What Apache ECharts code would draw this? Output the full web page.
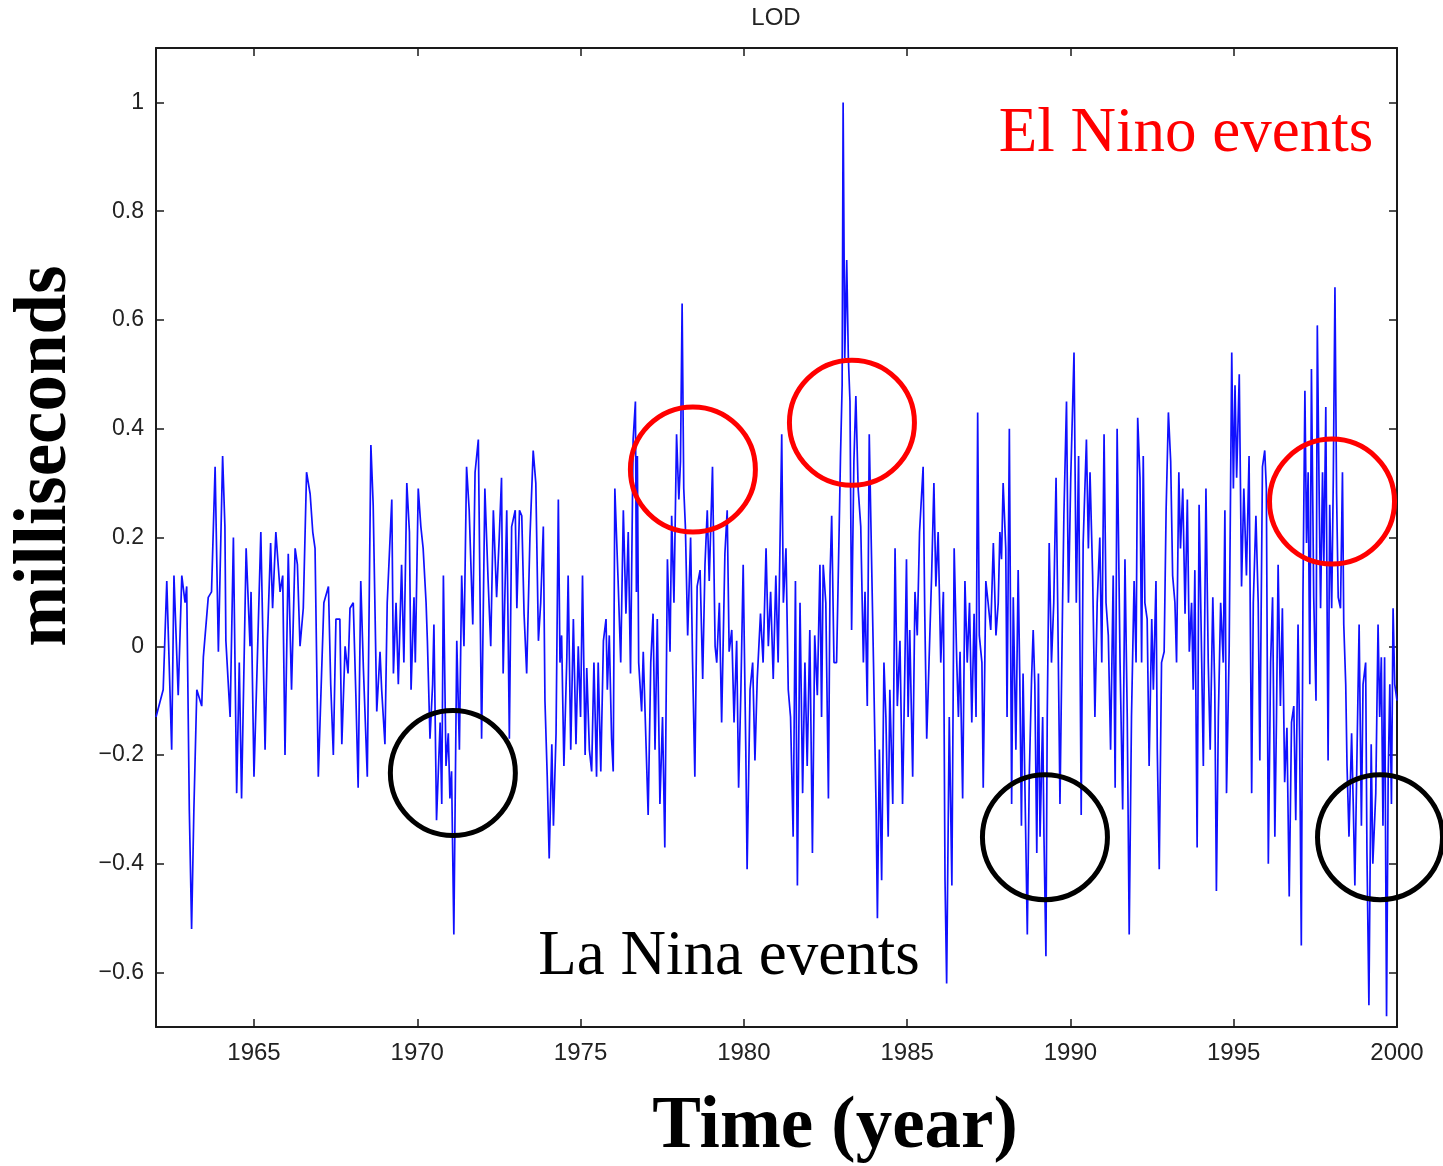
<!DOCTYPE html>
<html>
<head>
<meta charset="utf-8">
<title>LOD</title>
<script src="https://cdn.jsdelivr.net/npm/echarts@6/dist/echarts.min.js"></script>
<style>
  html, body { margin: 0; padding: 0; background: #fff; }
  #chart { width: 1443px; height: 1166px; }
</style>
</head>
<body>
<div id="chart"></div>
<script>
// LOD anomaly, [year, milliseconds]
var lod = [
  [1962.00,-0.13],[1962.22,-0.08],[1962.33,0.12],[1962.48,-0.19],[1962.55,0.13],[1962.68,-0.09],
  [1962.79,0.13],[1962.89,0.08],[1962.94,0.11],[1963.02,-0.30],[1963.09,-0.52],[1963.16,-0.30],
  [1963.25,-0.08],[1963.40,-0.11],[1963.45,-0.02],[1963.60,0.09],[1963.70,0.10],[1963.81,0.33],
  [1963.91,-0.01],[1964.04,0.35],[1964.11,0.22],[1964.14,0.01],[1964.27,-0.13],[1964.37,0.20],
  [1964.47,-0.27],[1964.55,-0.03],[1964.62,-0.28],[1964.76,0.18],[1964.88,0.00],[1964.91,0.10],
  [1965.00,-0.24],[1965.10,-0.03],[1965.21,0.21],[1965.34,-0.19],[1965.41,0.01],[1965.51,0.19],
  [1965.57,0.07],[1965.67,0.21],[1965.80,0.10],[1965.88,0.13],[1965.95,-0.20],[1966.05,0.17],
  [1966.15,-0.08],[1966.26,0.18],[1966.33,0.15],[1966.41,0.00],[1966.51,0.07],[1966.61,0.32],
  [1966.72,0.28],[1966.80,0.21],[1966.87,0.18],[1966.97,-0.24],[1967.07,-0.05],[1967.14,0.08],
  [1967.28,0.11],[1967.35,-0.07],[1967.43,-0.20],[1967.51,0.05],[1967.63,0.05],[1967.69,-0.18],
  [1967.79,0.00],[1967.88,-0.05],[1967.94,0.07],[1968.04,0.08],[1968.12,-0.09],[1968.19,-0.26],
  [1968.27,0.12],[1968.35,-0.04],[1968.47,-0.24],[1968.58,0.37],[1968.65,0.26],[1968.76,-0.12],
  [1968.86,-0.01],[1968.91,-0.08],[1969.01,-0.18],[1969.08,0.08],[1969.22,0.27],[1969.27,-0.05],
  [1969.35,0.08],[1969.42,-0.07],[1969.52,0.15],[1969.59,-0.03],[1969.68,0.30],[1969.76,0.21],
  [1969.81,-0.08],[1969.90,0.09],[1969.94,-0.03],[1970.03,0.29],[1970.11,0.22],[1970.18,0.18],
  [1970.27,0.08],[1970.31,0.01],[1970.39,-0.17],[1970.47,-0.07],[1970.51,0.04],[1970.59,-0.32],
  [1970.70,-0.14],[1970.75,-0.29],[1970.80,0.13],[1970.88,-0.22],[1970.95,-0.16],[1971.00,-0.28],
  [1971.05,-0.23],[1971.12,-0.53],[1971.21,0.01],[1971.29,-0.19],[1971.36,0.13],[1971.43,0.00],
  [1971.51,0.33],[1971.59,0.25],[1971.70,0.04],[1971.77,0.32],[1971.87,0.38],[1971.97,-0.17],
  [1972.07,0.29],[1972.17,0.12],[1972.25,0.00],[1972.33,0.25],[1972.43,0.09],[1972.51,0.20],
  [1972.58,0.31],[1972.63,-0.05],[1972.74,0.25],[1972.82,-0.17],[1972.89,0.22],[1973.00,0.25],
  [1973.05,0.07],[1973.13,0.25],[1973.20,0.24],[1973.27,0.06],[1973.35,-0.05],[1973.45,0.20],
  [1973.55,0.36],[1973.63,0.30],[1973.71,0.01],[1973.78,0.08],[1973.86,0.22],[1973.91,-0.10],
  [1973.98,-0.24],[1974.04,-0.39],[1974.12,-0.18],[1974.17,-0.33],[1974.25,-0.16],[1974.32,0.27],
  [1974.37,-0.03],[1974.42,0.02],[1974.49,-0.22],[1974.58,-0.02],[1974.62,0.13],[1974.70,-0.19],
  [1974.78,0.05],[1974.86,-0.18],[1974.93,0.00],[1975.00,-0.13],[1975.06,0.13],[1975.14,-0.20],
  [1975.19,-0.04],[1975.27,-0.19],[1975.34,-0.23],[1975.41,-0.03],[1975.49,-0.24],[1975.54,-0.03],
  [1975.62,-0.23],[1975.70,0.01],[1975.78,0.05],[1975.82,-0.08],[1975.88,0.02],[1975.95,-0.17],
  [1976.00,-0.23],[1976.05,0.29],[1976.15,0.12],[1976.23,-0.03],[1976.31,0.25],[1976.39,0.06],
  [1976.46,0.21],[1976.53,-0.05],[1976.61,0.38],[1976.68,0.45],[1976.71,0.10],[1976.74,0.35],
  [1976.78,-0.03],[1976.87,-0.12],[1976.92,-0.01],[1977.00,-0.17],[1977.07,-0.31],[1977.15,-0.03],
  [1977.22,0.06],[1977.28,-0.19],[1977.35,0.05],[1977.43,-0.29],[1977.51,-0.13],[1977.58,-0.37],
  [1977.66,0.16],[1977.74,-0.01],[1977.79,0.24],[1977.86,0.08],[1977.94,0.39],[1978.01,0.27],
  [1978.06,0.34],[1978.11,0.63],[1978.16,0.29],[1978.21,0.22],[1978.28,0.02],[1978.37,0.20],
  [1978.43,-0.03],[1978.50,-0.24],[1978.57,0.11],[1978.66,0.14],[1978.74,-0.06],[1978.81,0.15],
  [1978.88,0.25],[1978.94,0.12],[1979.04,0.33],[1979.12,0.00],[1979.17,-0.03],[1979.25,0.08],
  [1979.32,-0.14],[1979.42,0.17],[1979.49,0.25],[1979.55,-0.01],[1979.63,0.03],[1979.70,-0.14],
  [1979.78,0.01],[1979.84,-0.26],[1979.91,-0.08],[1979.98,0.15],[1980.06,-0.19],[1980.10,-0.41],
  [1980.19,-0.08],[1980.27,-0.03],[1980.34,-0.21],[1980.41,-0.06],[1980.51,0.06],[1980.59,-0.03],
  [1980.68,0.18],[1980.75,0.00],[1980.82,0.10],[1980.90,-0.06],[1980.98,0.13],[1981.05,-0.03],
  [1981.16,0.39],[1981.21,0.08],[1981.29,0.18],[1981.36,-0.08],[1981.43,-0.13],[1981.51,-0.35],
  [1981.58,0.12],[1981.64,-0.44],[1981.72,0.08],[1981.80,-0.27],[1981.87,-0.03],[1981.94,-0.22],
  [1982.02,0.03],[1982.10,-0.38],[1982.17,0.02],[1982.25,-0.09],[1982.33,0.15],[1982.38,-0.13],
  [1982.43,0.15],[1982.51,0.08],[1982.59,-0.28],[1982.64,0.13],[1982.69,0.24],[1982.76,-0.03],
  [1982.84,-0.03],[1982.92,0.22],[1982.96,0.35],[1983.01,0.48],[1983.04,1.00],[1983.09,0.53],
  [1983.15,0.71],[1983.20,0.53],[1983.25,0.45],[1983.30,0.03],[1983.37,0.34],[1983.43,0.46],
  [1983.50,0.29],[1983.58,0.22],[1983.66,-0.03],[1983.71,0.10],[1983.78,-0.11],[1983.84,0.39],
  [1983.92,0.13],[1983.97,-0.03],[1984.05,-0.30],[1984.09,-0.50],[1984.15,-0.19],[1984.22,-0.43],
  [1984.29,-0.03],[1984.35,-0.13],[1984.42,-0.35],[1984.47,-0.08],[1984.56,-0.29],[1984.63,0.18],
  [1984.70,-0.11],[1984.78,0.01],[1984.86,-0.29],[1984.93,-0.04],[1984.98,0.16],[1985.03,-0.13],
  [1985.08,0.03],[1985.17,-0.24],[1985.24,0.10],[1985.31,0.02],[1985.38,0.21],[1985.49,0.33],
  [1985.54,0.06],[1985.60,-0.17],[1985.67,-0.03],[1985.75,0.13],[1985.82,0.30],[1985.88,0.11],
  [1985.95,0.21],[1986.03,-0.03],[1986.11,0.10],[1986.16,-0.43],[1986.21,-0.62],[1986.29,-0.13],
  [1986.37,-0.44],[1986.44,0.18],[1986.52,-0.03],[1986.57,-0.13],[1986.62,-0.01],[1986.70,-0.28],
  [1986.77,0.12],[1986.84,-0.03],[1986.91,0.08],[1986.98,-0.14],[1987.05,0.06],[1987.11,-0.13],
  [1987.16,0.43],[1987.21,0.02],[1987.29,-0.03],[1987.33,-0.26],[1987.41,0.12],[1987.48,0.08],
  [1987.56,0.03],[1987.64,0.19],[1987.72,0.02],[1987.79,0.08],[1987.84,0.21],[1987.89,0.16],
  [1987.94,0.30],[1988.02,0.18],[1988.06,-0.13],[1988.13,0.40],[1988.20,-0.29],[1988.25,0.09],
  [1988.33,-0.19],[1988.40,0.14],[1988.45,-0.06],[1988.50,-0.33],[1988.55,-0.05],[1988.64,-0.38],
  [1988.68,-0.53],[1988.74,-0.24],[1988.81,-0.06],[1988.86,0.03],[1988.91,-0.07],[1988.97,-0.38],
  [1989.02,-0.05],[1989.07,-0.35],[1989.15,-0.13],[1989.19,-0.35],[1989.25,-0.57],[1989.29,-0.13],
  [1989.35,0.19],[1989.42,-0.03],[1989.49,0.08],[1989.56,0.31],[1989.61,0.08],[1989.68,-0.29],
  [1989.76,0.08],[1989.80,0.24],[1989.88,0.45],[1989.94,0.08],[1990.01,0.31],[1990.11,0.54],
  [1990.18,0.08],[1990.25,0.35],[1990.33,-0.31],[1990.39,0.19],[1990.49,0.38],[1990.55,0.18],
  [1990.60,0.32],[1990.68,0.13],[1990.75,-0.13],[1990.82,0.08],[1990.90,0.20],[1990.96,-0.03],
  [1991.03,0.39],[1991.09,0.08],[1991.16,0.02],[1991.23,-0.19],[1991.31,0.13],[1991.37,-0.26],
  [1991.43,0.40],[1991.52,-0.03],[1991.60,-0.30],[1991.67,0.16],[1991.74,-0.13],[1991.80,-0.53],
  [1991.87,-0.13],[1991.95,0.12],[1992.01,-0.03],[1992.06,0.42],[1992.13,0.31],[1992.18,-0.03],
  [1992.23,0.35],[1992.28,0.08],[1992.35,0.05],[1992.41,-0.22],[1992.49,0.05],[1992.54,-0.08],
  [1992.62,0.12],[1992.66,-0.19],[1992.72,-0.41],[1992.79,-0.03],[1992.87,-0.01],[1992.93,0.25],
  [1993.00,0.43],[1993.07,0.34],[1993.13,0.13],[1993.20,0.08],[1993.25,-0.03],[1993.32,0.32],
  [1993.37,0.18],[1993.44,0.29],[1993.51,0.06],[1993.58,0.27],[1993.64,-0.01],[1993.71,0.08],
  [1993.76,-0.08],[1993.81,0.14],[1993.88,-0.37],[1993.94,0.26],[1994.02,-0.03],[1994.07,-0.22],
  [1994.15,0.29],[1994.22,-0.03],[1994.28,-0.19],[1994.36,0.09],[1994.42,-0.08],[1994.47,-0.45],
  [1994.53,-0.13],[1994.60,0.08],[1994.68,-0.03],[1994.73,0.25],[1994.78,-0.27],[1994.86,-0.01],
  [1994.94,0.54],[1994.99,0.29],[1995.04,0.48],[1995.09,0.31],[1995.17,0.50],[1995.24,0.11],
  [1995.31,0.29],[1995.39,0.13],[1995.47,0.35],[1995.55,-0.27],[1995.60,0.08],[1995.68,0.24],
  [1995.75,0.08],[1995.80,-0.21],[1995.88,0.33],[1995.95,0.36],[1996.00,0.29],[1996.06,-0.40],
  [1996.13,-0.03],[1996.19,0.09],[1996.26,-0.35],[1996.31,-0.13],[1996.36,0.15],[1996.43,-0.11],
  [1996.49,0.07],[1996.56,-0.25],[1996.63,-0.15],[1996.70,-0.46],[1996.77,-0.14],[1996.84,-0.11],
  [1996.90,-0.32],[1996.97,0.04],[1997.02,-0.18],[1997.07,-0.55],[1997.12,0.09],[1997.18,0.47],
  [1997.23,0.19],[1997.28,0.32],[1997.33,-0.07],[1997.38,0.51],[1997.45,0.09],[1997.52,-0.10],
  [1997.56,0.59],[1997.62,0.26],[1997.66,0.07],[1997.72,0.32],[1997.76,0.15],[1997.82,0.44],
  [1997.89,-0.21],[1997.94,0.26],[1998.00,0.07],[1998.05,0.31],[1998.10,0.66],[1998.15,0.28],
  [1998.20,0.09],[1998.27,0.07],[1998.33,0.32],[1998.37,0.04],[1998.43,-0.07],[1998.47,-0.22],
  [1998.53,-0.35],[1998.61,-0.16],[1998.66,-0.29],[1998.71,-0.44],[1998.78,-0.18],[1998.84,0.04],
  [1998.91,-0.33],[1998.96,-0.07],[1999.04,-0.03],[1999.08,-0.38],[1999.14,-0.66],[1999.21,-0.18],
  [1999.26,-0.40],[1999.35,-0.27],[1999.42,0.04],[1999.47,-0.13],[1999.52,-0.02],[1999.57,-0.33],
  [1999.62,-0.02],[1999.68,-0.68],[1999.73,-0.24],[1999.78,-0.07],[1999.83,-0.29],[1999.88,0.07],
  [1999.93,-0.07],[2000.00,-0.10]
];

// circled events [year, ms]
var elNino = [[1978.44, 0.325], [1983.31, 0.411], [1998.01, 0.266]];
var laNina = [[1971.09, -0.233], [1989.22, -0.351], [1999.48, -0.351]];

var xTicks = [1965, 1970, 1975, 1980, 1985, 1990, 1995, 2000];
var yTicks = [-0.6, -0.4, -0.2, 0, 0.2, 0.4, 0.6, 0.8, 1];

var frame = '#1a1a1a';
var sans = '"Liberation Sans", Arial, Helvetica, sans-serif';
var serif = '"Liberation Serif", "Times New Roman", serif';

function fmtY(v) {
  return v < 0 ? '\u2212' + String(Math.abs(v)) : String(v);
}

function xAxisOpt(pos, showLabel) {
  return {
    type: 'value', min: 1962, max: 2000, position: pos,
    axisLine: { onZero: false, lineStyle: { color: frame, width: 2 } },
    axisTick: { inside: true, length: 8, customValues: xTicks, lineStyle: { color: frame, width: 1.5 } },
    axisLabel: { show: showLabel, customValues: xTicks, formatter: function (v) { return String(v); },
      fontSize: 24, color: '#222', fontFamily: sans, margin: 14 },
    splitLine: { show: false }
  };
}

function yAxisOpt(pos, showLabel) {
  return {
    type: 'value', min: -0.7, max: 1.1, position: pos,
    axisLine: { onZero: false, lineStyle: { color: frame, width: 2 } },
    axisTick: { inside: true, length: 8, customValues: yTicks, lineStyle: { color: frame, width: 1.5 } },
    axisLabel: { show: showLabel, customValues: yTicks, formatter: fmtY, fontSize: 23, color: '#222', fontFamily: sans, margin: 12 },
    splitLine: { show: false }
  };
}

var chart = echarts.init(document.getElementById('chart'), null, { renderer: 'canvas' });

chart.setOption({
  animation: false,
  backgroundColor: '#fff',
  grid: { left: 156, right: 46, top: 48, bottom: 139 },
  xAxis: [xAxisOpt('bottom', true), xAxisOpt('top', false)],
  yAxis: [yAxisOpt('left', true), yAxisOpt('right', false)],
  graphic: [
    { type: 'text', x: 776, y: 18, style: { text: 'LOD', fontSize: 24, fontFamily: sans, fill: '#222', textAlign: 'center', textVerticalAlign: 'middle' } },
    { type: 'text', x: 46, y: 456, rotation: Math.PI / 2, style: { text: 'milliseconds', fontSize: 73, fontWeight: 'bold', fontFamily: serif, fill: '#000', textAlign: 'center', textVerticalAlign: 'middle' } },
    { type: 'text', x: 835, y: 1128, style: { text: 'Time (year)', fontSize: 73, fontWeight: 'bold', fontFamily: serif, fill: '#000', textAlign: 'center', textVerticalAlign: 'middle' } },
    { type: 'text', x: 1186, y: 134, z: 10, style: { text: 'El Nino events', fontSize: 63, fontFamily: serif, fill: '#ff0000', textAlign: 'center', textVerticalAlign: 'middle' } },
    { type: 'text', x: 729, y: 957, z: 10, style: { text: 'La Nina events', fontSize: 63, fontFamily: serif, fill: '#000', textAlign: 'center', textVerticalAlign: 'middle' } }
  ],
  series: [
    {
      name: 'LOD', type: 'line', data: lod,
      showSymbol: false, silent: true,
      lineStyle: { color: '#1010ff', width: 1.7 }
    },
    {
      name: 'El Nino', type: 'scatter', data: elNino, clip: false, silent: true, z: 5,
      symbol: 'circle', symbolSize: 125,
      itemStyle: { color: 'rgba(0,0,0,0)', borderColor: '#ff0000', borderWidth: 5, opacity: 1 }
    },
    {
      name: 'La Nina', type: 'scatter', data: laNina, clip: false, silent: true, z: 5,
      symbol: 'circle', symbolSize: 125,
      itemStyle: { color: 'rgba(0,0,0,0)', borderColor: '#000', borderWidth: 5, opacity: 1 }
    }
  ]
});
</script>
</body>
</html>
